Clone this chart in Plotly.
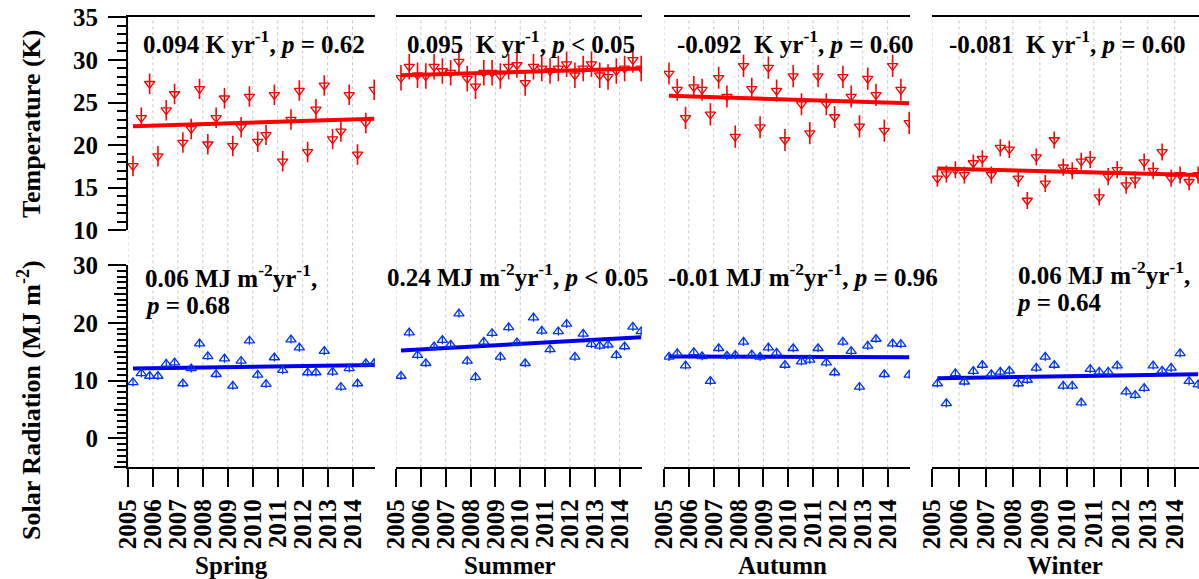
import plotly.graph_objects as go

W, H = 1199, 579

years = list(range(2005, 2015))
month_pos = [0.2, 0.533, 0.867]
seasons = ["Spring", "Summer", "Autumn", "Winter"]

temp_spring = [17.55, 23.2, 27.2, 18.7, 24.1, 26.0, 20.3, 21.9, 26.6, 20.1, 23.2, 25.5, 19.9, 22.1, 25.7,
               20.4, 21.2, 25.9, 18.1, 23.0, 26.4, 19.2, 24.2, 27.0, 20.7, 21.6, 25.9, 18.9, 22.6, 26.5]
temp_summer = [27.9, 29.2, 28.2, 28.1, 29.2, 28.7, 28.5, 29.8, 27.8, 26.9, 28.5, 28.5, 28.1, 29.2, 29.4,
               27.3, 29.2, 29.0, 28.7, 29.0, 29.5, 28.2, 29.0, 29.5, 28.2, 28.0, 28.7, 29.0, 30.0, 29.0]
temp_autumn = [28.4, 26.5, 23.2, 26.8, 26.5, 23.6, 27.9, 25.7, 21.0, 29.3, 26.6, 22.1, 29.1, 26.4, 20.6,
               28.1, 24.8, 21.4, 28.1, 24.8, 23.3, 28.0, 25.7, 22.2, 27.8, 25.9, 21.7, 29.3, 26.5, 22.6]
temp_winter = [16.1, 16.6, 17.1, 16.5, 17.9, 18.4, 16.5, 19.7, 19.5, 16.1, 13.5, 18.6, 15.5, 20.6, 17.4,
               17.0, 18.1, 18.3, 13.9, 16.3, 17.1, 15.3, 15.9, 18.0, 17.0, 19.2, 16.1, 16.5, 15.7, 16.5]

rad_spring = [9.7, 11.25, 10.8, 10.8, 12.9, 13.1, 9.5, 12.1, 16.4, 14.2, 11.1, 13.8, 9.1, 13.4, 16.9,
              11.0, 9.4, 14.0, 11.8, 17.1, 15.7, 11.4, 11.4, 15.1, 11.5, 8.9, 12.1, 9.5, 13.0, 13.0]
rad_summer = [10.8, 18.3, 14.4, 13.0, 15.9, 17.0, 16.2, 21.6, 13.4, 10.6, 16.7, 18.2, 14.1, 19.2, 16.6,
              13.0, 20.9, 18.6, 15.4, 18.5, 19.8, 14.1, 18.1, 16.3, 16.0, 16.2, 14.4, 15.9, 19.3, 18.5]
rad_autumn = [14.1, 14.7, 12.6, 14.9, 14.2, 9.9, 15.6, 14.3, 14.4, 16.7, 14.5, 14.1, 15.7, 14.8, 12.7,
              15.6, 13.3, 13.6, 15.6, 13.1, 11.4, 16.7, 15.1, 8.9, 16.0, 17.2, 11.1, 16.4, 16.3, 11.0]
rad_winter = [9.5, 6.05, 11.25, 9.8, 11.65, 12.7, 11.1, 11.5, 11.7, 9.5, 10.1, 12.2, 14.1, 12.7, 9.1,
              9.1, 6.2, 12.0, 11.5, 11.5, 12.6, 8.1, 7.5, 8.7, 12.6, 11.7, 12.2, 14.7, 9.9, 9.3]

temp_err = [1.2, 1.5, 1.3, 1.0]
rad_err = [0.7, 0.7, 0.7, 0.7]

temp_trend_start = [22.2, 28.2, 25.8, 17.25]
temp_trend_end = [23.1, 29.0, 24.9, 16.5]
rad_trend_start = [12.1, 15.2, 14.15, 10.4]
rad_trend_end = [12.7, 17.5, 14.05, 11.1]

temp_labels = ["0.094 K yr<sup>-1</sup>, <i>p</i> = 0.62",
               "0.095  K yr<sup>-1</sup>, <i>p</i> < 0.05",
               "-0.092  K yr<sup>-1</sup>, <i>p</i> = 0.60",
               "-0.081  K yr<sup>-1</sup>, <i>p</i> = 0.60"]
rad_labels = [["0.06 MJ m<sup>-2</sup>yr<sup>-1</sup>,", "<i>p</i> = 0.68"],
              ["0.24 MJ m<sup>-2</sup>yr<sup>-1</sup>, <i>p</i> < 0.05"],
              ["-0.01 MJ m<sup>-2</sup>yr<sup>-1</sup>, <i>p</i> = 0.96"],
              ["0.06 MJ m<sup>-2</sup>yr<sup>-1</sup>,", "<i>p</i> = 0.64"]]

temps = [temp_spring, temp_summer, temp_autumn, temp_winter]
rads = [rad_spring, rad_summer, rad_autumn, rad_winter]

x_vals = [y + m for y in years for m in month_pos]

# layout geometry (pixels)
col_px = [(128, 375), (396, 642), (664, 910), (932, 1199)]
top_px = (17.3, 230.3)
bot_px = (265.0, 467.3)
temp_lbl_px = [(141, 42), (405, 42), (675, 42), (947, 42)]
rad_lbl_px = [[(143, 276), (143, 305)], [(385, 275)], [(666, 275)], [(1016, 273), (1014, 302)]]
season_px = [(231, 565), (510, 565), (782, 565), (1065, 565)]


def px2x(p):
    return p / W


def px2y(p):
    return 1 - p / H


FONT = "Liberation Serif"
RED = "#ff0000"
BLUE = "#0033ff"
XR = [2005, 2014.9]

fig = go.Figure()
layout = dict(width=W, height=H, margin=dict(l=0, r=0, t=0, b=0, autoexpand=False), autosize=False,
              paper_bgcolor="white", plot_bgcolor="rgba(0,0,0,0)", showlegend=False,
              font=dict(family=FONT, size=25, color="black", weight="bold"))

for k in range(4):
    xt = "x" if k == 0 else f"x{k+1}"
    yt = "y" if k == 0 else f"y{k+1}"
    xb = f"x{k+5}"
    yb = f"y{k+5}"
    dom = [px2x(col_px[k][0]), px2x(col_px[k][1])]
    # top panel axes
    layout["xaxis" if k == 0 else f"xaxis{k+1}"] = dict(
        domain=dom, range=XR, anchor=yt, side="top", showline=True, linewidth=2, linecolor="black",
        ticks="", showticklabels=False, showgrid=False, zeroline=False, automargin=False)
    ytop = dict(domain=[px2y(top_px[1]), px2y(top_px[0])], range=[10, 35], anchor=xt,
                showgrid=False, zeroline=False, automargin=False)
    if k == 0:
        ytop.update(showline=True, linewidth=2, linecolor="black", ticks="outside", ticklen=18,
                    tickwidth=2, tickcolor="black", tickvals=[10, 15, 20, 25, 30, 35],
                    ticklabelstandoff=5, tickfont=dict(family=FONT, size=25, weight="bold"),
                    minor=dict(ticks="outside", dtick=1, ticklen=9, tickwidth=1.5, tickcolor="black"))
    else:
        ytop.update(visible=False)
    layout["yaxis" if k == 0 else f"yaxis{k+1}"] = ytop
    # bottom panel axes
    layout[f"xaxis{k+5}"] = dict(
        domain=dom, range=XR, anchor=yb, side="bottom", showline=True, linewidth=2, linecolor="black",
        ticks="outside", ticklen=18, tickwidth=2, tickcolor="black", tickvals=years,
        ticktext=[str(y) for y in years], tickangle=-90, showgrid=False, zeroline=False,
        ticklabelstandoff=2, automargin=False, tickfont=dict(family=FONT, size=25, weight="bold"))
    ybot = dict(domain=[px2y(bot_px[1]), px2y(bot_px[0])], range=[-5, 30], anchor=xb,
                showgrid=False, zeroline=False, automargin=False)
    if k == 0:
        ybot.update(showline=True, linewidth=2, linecolor="black", ticks="outside", ticklen=18,
                    tickwidth=2, tickcolor="black", tickvals=[0, 10, 20, 30],
                    ticklabelstandoff=5, tickfont=dict(family=FONT, size=25, weight="bold"),
                    minor=dict(ticks="outside", dtick=1, ticklen=9, tickwidth=1.5, tickcolor="black"))
    else:
        ybot.update(visible=False)
    layout[f"yaxis{k+5}"] = ybot

    # traces
    fig.add_trace(go.Scatter(x=[x_vals[0], x_vals[-1]], y=[temp_trend_start[k], temp_trend_end[k]],
                             mode="lines", line=dict(color=RED, width=4), xaxis=xt, yaxis=yt))
    fig.add_trace(go.Scatter(x=x_vals, y=temps[k], mode="markers", xaxis=xt, yaxis=yt,
                             marker=dict(symbol="triangle-down-open", size=9, color=RED,
                                         line=dict(width=1.3, color=RED)),
                             error_y=dict(type="constant", value=temp_err[k], width=0,
                                          thickness=1.6, color=RED)))
    fig.add_trace(go.Scatter(x=[x_vals[0], x_vals[-1]], y=[rad_trend_start[k], rad_trend_end[k]],
                             mode="lines", line=dict(color="#0000ee", width=4), xaxis=xb, yaxis=yb))
    fig.add_trace(go.Scatter(x=x_vals, y=rads[k], mode="markers", xaxis=xb, yaxis=yb,
                             marker=dict(symbol="triangle-up-open", size=9, color=BLUE,
                                         line=dict(width=1.3, color=BLUE)),
                             error_y=dict(type="constant", value=rad_err[k], width=0,
                                          thickness=1.3, color=BLUE)))

# medium ticks for the lower left axis
layout["yaxis9"] = dict(domain=[px2y(bot_px[1]), px2y(bot_px[0])], range=[-5, 30], anchor="x5",
                        overlaying="y5", side="left", ticks="outside", ticklen=13, tickwidth=1.5,
                        tickcolor="black", tickvals=[-5, 5, 15, 25], showticklabels=False,
                        showline=False, showgrid=False, zeroline=False, automargin=False)
fig.add_trace(go.Scatter(x=[2006], y=[-100], mode="markers", xaxis="x5", yaxis="y9",
                         marker=dict(opacity=0), hoverinfo="skip"))

# dotted vertical grid lines spanning both panels
shapes = []
for k in range(4):
    xt = "x" if k == 0 else f"x{k+1}"
    for yv in years:
        shapes.append(dict(type="line", xref=xt, yref="paper", x0=yv, x1=yv,
                           y0=px2y(bot_px[1]), y1=px2y(top_px[0]), layer="below",
                           line=dict(color="#c8c8c8", width=1, dash="dot")))
layout["shapes"] = shapes

annotations = []
for k in range(4):
    px, py = temp_lbl_px[k]
    annotations.append(dict(text=temp_labels[k], xref="paper", yref="paper", x=px2x(px), y=px2y(py),
                            xanchor="left", yanchor="middle", showarrow=False,
                            font=dict(family=FONT, size=25, weight="bold", color="black")))
    for line_txt, (lx, ly) in zip(rad_labels[k], rad_lbl_px[k]):
        annotations.append(dict(text=line_txt, xref="paper", yref="paper", x=px2x(lx), y=px2y(ly),
                                xanchor="left", yanchor="middle", showarrow=False,
                                font=dict(family=FONT, size=25, weight="bold", color="black")))
    sx, sy = season_px[k]
    annotations.append(dict(text=seasons[k], xref="paper", yref="paper", x=px2x(sx), y=px2y(sy),
                            xanchor="center", yanchor="middle", showarrow=False,
                            font=dict(family=FONT, size=25, weight="bold", color="black")))
annotations.append(dict(text="Temperature (K)", xref="paper", yref="paper", x=px2x(32), y=px2y(124),
                        xanchor="center", yanchor="middle", textangle=-90, showarrow=False,
                        font=dict(family=FONT, size=26, weight="bold", color="black")))
annotations.append(dict(text="Solar Radiation (MJ m<sup>-2</sup>)", xref="paper", yref="paper",
                        x=px2x(29), y=px2y(400), xanchor="center", yanchor="middle", textangle=-90,
                        showarrow=False, font=dict(family=FONT, size=26, weight="bold", color="black")))
layout["annotations"] = annotations

fig.update_layout(**layout)
fig.write_html("out.html", config={"displayModeBar": False},
               post_script="document.body.style.margin='0px';")
